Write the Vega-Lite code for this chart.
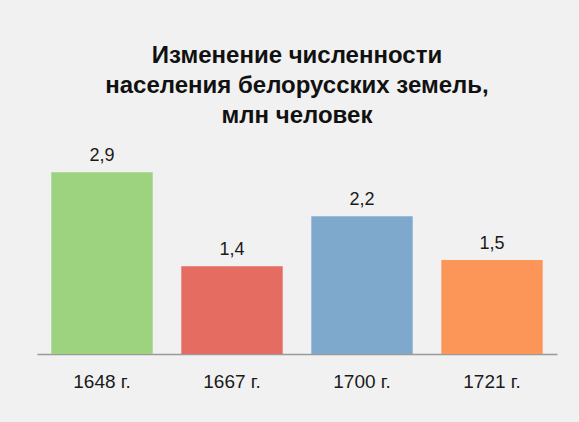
{
  "$schema": "https://vega.github.io/schema/vega-lite/v6.json",
  "autosize": "none",
  "width": 520,
  "height": 188,
  "padding": {"left": 37, "top": 166, "right": 22, "bottom": 68},
  "background": "#f1f1f1",
  "config": {
    "view": {"stroke": null},
    "locale": {"number": {"decimal": ",", "thousands": " ", "grouping": [3], "currency": ["", ""]}},
    "font": "Liberation Sans"
  },
  "title": {
    "text": ["Изменение численности", "населения белорусских земель,", "млн человек"],
    "font": "Liberation Sans",
    "fontSize": 24,
    "fontWeight": "bold",
    "color": "#111111",
    "lineHeight": 30,
    "anchor": "middle",
    "offset": 19
  },
  "data": {
    "values": [
      {"year": "1648 г.", "value": 2.9},
      {"year": "1667 г.", "value": 1.4},
      {"year": "1700 г.", "value": 2.2},
      {"year": "1721 г.", "value": 1.5}
    ]
  },
  "encoding": {
    "x": {
      "field": "year", "type": "nominal", "sort": null,
      "scale": {"paddingInner": 0.22, "paddingOuter": 0.11},
      "axis": {
        "title": null, "labelAngle": 0, "ticks": false, "domainColor": "#9a9a9a", "domainWidth": 1.5,
        "labelFontSize": 19, "labelColor": "#1a1a1a", "labelPadding": 18, "grid": false
      }
    },
    "y": {
      "field": "value", "type": "quantitative",
      "scale": {"domain": [0, 3]},
      "axis": null
    }
  },
  "layer": [
    {
      "mark": {"type": "bar"},
      "encoding": {
        "color": {
          "field": "year", "type": "nominal", "sort": null,
          "scale": {"range": ["#9dd27e", "#e46c61", "#7fa8cd", "#fb9558"]},
          "legend": null
        }
      }
    },
    {
      "mark": {"type": "text", "baseline": "bottom", "dy": -7, "fontSize": 18, "color": "#1a1a1a"},
      "encoding": {
        "text": {"field": "value", "type": "quantitative", "format": ".1f"}
      }
    }
  ]
}
